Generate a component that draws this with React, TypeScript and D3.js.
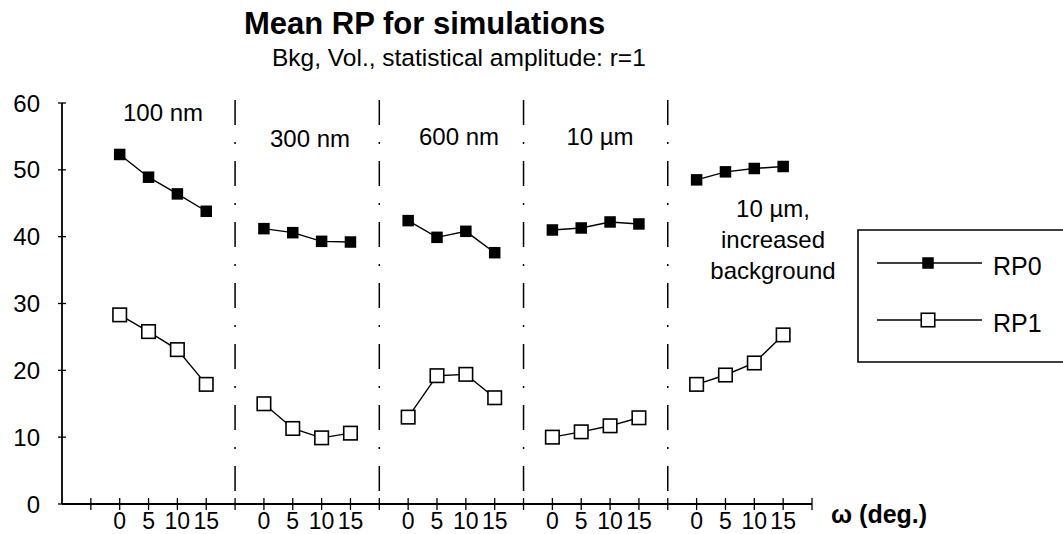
import React from "react";
import * as d3 from "d3";

// ---- data ----
const angleLabels = ["0", "5", "10", "15"];
const groupLabels = ["100 nm", "300 nm", "600 nm", "10 µm", "10 µm,|increased|background"];
const rp0 = [
  [52.3, 48.9, 46.4, 43.8],
  [41.2, 40.6, 39.3, 39.2],
  [42.4, 39.9, 40.8, 37.6],
  [41.0, 41.3, 42.2, 41.9],
  [48.5, 49.7, 50.2, 50.5],
];
const rp1 = [
  [28.3, 25.8, 23.1, 17.9],
  [15.0, 11.3, 9.9, 10.6],
  [13.0, 19.2, 19.4, 15.9],
  [10.0, 10.8, 11.7, 12.9],
  [17.9, 19.3, 21.1, 25.3],
];
const yTicks = [0, 10, 20, 30, 40, 50, 60];
const seriesNames = ["RP0", "RP1"];

// category slots: 2 empty, then 4 angles per group separated by divider slots
const nSlots = 26;
const slotOf = (g: number, j: number) => 2 + g * 5 + j;
const dividerSlots = [6, 11, 16, 21];

export default function App() {
  const W = 1063, H = 534;
  const x = d3.scaleLinear().domain([0, nSlots]).range([62, 812]);
  const y = d3.scaleLinear().domain([0, 60]).range([504, 103]);
  const font = "'Liberation Sans', Arial, Helvetica, sans-serif";

  const groupPath = (vals: number[], g: number) =>
    d3
      .line<number>()
      .x((_, j) => x(slotOf(g, j)))
      .y((d) => y(d))(vals) as string;

  const labelPos = [
    { cx: 163, by: [121] },
    { cx: 310, by: [147] },
    { cx: 459, by: [145] },
    { cx: 600, by: [145] },
    { cx: 773, by: [217, 248, 279] },
  ];

  const fs = 11.5; // filled marker size
  const os = 13.5; // open marker size

  return (
    <svg
      width={W}
      height={H}
      style={{ position: "absolute", left: 0, top: 0, background: "#fff" }}
      fontFamily={font}
    >
      <rect width={W} height={H} fill="#fff" />
      {/* titles */}
      <text x={244} y={34} fontSize={31} fontWeight="bold">
        Mean RP for simulations
      </text>
      <text x={272} y={66} fontSize={24.5}>
        Bkg, Vol., statistical amplitude: r=1
      </text>

      {/* dividers */}
      {dividerSlots.map((s) => (
        <line
          key={s}
          x1={x(s)}
          x2={x(s)}
          y1={100}
          y2={504}
          stroke="#000"
          strokeWidth={1.5}
          strokeDasharray="25 17 2 17"
        />
      ))}

      {/* y axis */}
      <line x1={x(0)} x2={x(0)} y1={y(60)} y2={y(0)} stroke="#000" strokeWidth={1.8} />
      {yTicks.map((t) => (
        <g key={t}>
          <line x1={x(0) - 4} x2={x(0) + 4} y1={y(t)} y2={y(t)} stroke="#000" strokeWidth={1.3} />
          <text x={40} y={y(t) + 8.5} textAnchor="end" fontSize={24}>
            {t}
          </text>
        </g>
      ))}

      {/* x axis */}
      <line x1={x(0)} x2={x(nSlots)} y1={y(0)} y2={y(0)} stroke="#000" strokeWidth={1.8} />
      {d3.range(1, nSlots + 1).map((s) => (
        <line key={s} x1={x(s)} x2={x(s)} y1={y(0) - 6} y2={y(0) + 6} stroke="#000" strokeWidth={1.3} />
      ))}
      {groupLabels.map((_, g) =>
        angleLabels.map((a, j) => (
          <text key={`${g}-${j}`} x={x(slotOf(g, j))} y={529} textAnchor="middle" fontSize={23}>
            {a}
          </text>
        ))
      )}
      <text x={831} y={523} fontSize={25} fontWeight="bold">
        ω (deg.)
      </text>

      {/* group labels */}
      {groupLabels.map((lab, g) =>
        lab.split("|").map((part, k) => (
          <text key={`${g}-${k}`} x={labelPos[g].cx} y={labelPos[g].by[k]} textAnchor="middle" fontSize={24}>
            {part}
          </text>
        ))
      )}

      {/* series */}
      {rp0.map((vals, g) => (
        <g key={`a${g}`}>
          <path d={groupPath(vals, g)} fill="none" stroke="#000" strokeWidth={1.4} />
          {vals.map((v, j) => (
            <rect key={j} x={x(slotOf(g, j)) - fs / 2} y={y(v) - fs / 2} width={fs} height={fs} fill="#000" />
          ))}
        </g>
      ))}
      {rp1.map((vals, g) => (
        <g key={`b${g}`}>
          <path d={groupPath(vals, g)} fill="none" stroke="#000" strokeWidth={1.4} />
          {vals.map((v, j) => (
            <rect
              key={j}
              x={x(slotOf(g, j)) - os / 2}
              y={y(v) - os / 2}
              width={os}
              height={os}
              fill="#fff"
              stroke="#000"
              strokeWidth={1.6}
            />
          ))}
        </g>
      ))}

      {/* legend */}
      <path d="M1066,230 H858 V362 H1066" fill="none" stroke="#000" strokeWidth={1.6} />
      {seriesNames.map((n, i) => {
        const ly = i === 0 ? 263 : 320;
        return (
          <g key={n}>
            <line x1={877} x2={982} y1={ly} y2={ly} stroke="#000" strokeWidth={1.3} />
            {i === 0 ? (
              <rect x={928 - fs / 2} y={ly - fs / 2} width={fs} height={fs} fill="#000" />
            ) : (
              <rect x={928 - os / 2} y={ly - os / 2} width={os} height={os} fill="#fff" stroke="#000" strokeWidth={1.6} />
            )}
            <text x={993} y={ly + 12} fontSize={25}>
              {n}
            </text>
          </g>
        );
      })}
    </svg>
  );
}
